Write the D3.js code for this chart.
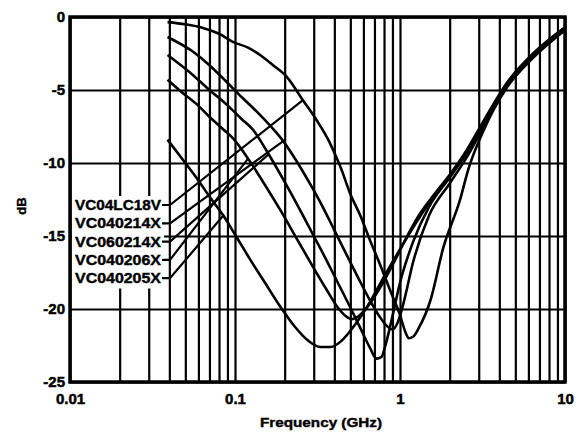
<!DOCTYPE html>
<html>
<head>
<meta charset="utf-8">
<script src="https://cdn.jsdelivr.net/npm/d3@7"></script>
<style>
  html, body { margin: 0; padding: 0; background: #fff; }
  svg { display: block; }
  text { font-family: "Liberation Sans", Arial, sans-serif; font-weight: bold; fill: #000; }
</style>
</head>
<body>
<script>
// ---- data ----
const xTicks = [0.01, 0.1, 1, 10];
const xTickLabels = ["0.01", "0.1", "1", "10"];
const yTicks = [0, -5, -10, -15, -20, -25];
const yTickLabels = ["0", "-5", "-10", "-15", "-20", "-25"];
const seriesNames = ["VC04LC18V", "VC040214X", "VC060214X", "VC040206X", "VC040205X"];

const freqA = [0.039, 0.05, 0.064, 0.08, 0.097, 0.12, 0.142, 0.17, 0.206, 0.258, 0.31, 0.375, 0.44, 0.497, 0.58, 0.658, 0.76, 0.87, 1.0, 1.08, 1.13, 1.2, 1.3, 1.53, 1.83, 2.3, 2.6, 3.2, 4.4, 6.4, 10];
const dbA   = [-0.35, -0.5, -0.75, -1.15, -1.7, -2.1, -2.6, -3.3, -4.1, -5.7, -7.0, -8.6, -10.4, -12.05, -13.7, -15.3, -17.0, -18.7, -20.4, -21.6, -22.0, -21.9, -21.3, -19.4, -15.8, -12.6, -10.4, -7.8, -4.9, -2.8, -0.9];

const freqB = [0.039, 0.056, 0.07, 0.089, 0.11, 0.136, 0.165, 0.196, 0.24, 0.284, 0.34, 0.4, 0.48, 0.56, 0.65, 0.75, 0.84, 0.9, 0.97, 1.05, 1.2, 1.5, 2.0, 2.54, 3.18, 4.45, 6.4, 10];
const dbB   = [-1.37, -2.4, -3.3, -4.45, -5.5, -6.5, -7.5, -8.5, -10.0, -11.4, -13.0, -14.6, -16.4, -17.9, -19.3, -20.5, -21.2, -21.4, -20.9, -19.6, -16.8, -13.6, -11.4, -9.6, -7.6, -4.75, -2.7, -0.8];

const freqC = [0.039, 0.056, 0.07, 0.089, 0.11, 0.128, 0.16, 0.2, 0.25, 0.3, 0.36, 0.42, 0.5, 0.58, 0.66, 0.72, 0.77, 0.82, 0.9, 1.0, 1.2, 1.5, 2.0, 2.54, 3.18, 4.45, 6.4, 10];
const dbC   = [-2.6, -4.0, -5.0, -6.0, -7.0, -7.7, -9.4, -11.3, -13.3, -15.0, -16.7, -18.2, -19.9, -21.4, -22.7, -23.4, -23.3, -22.4, -20.5, -18.2, -15.4, -13.0, -11.0, -9.3, -7.4, -4.6, -2.6, -0.8];

const freqD = [0.039, 0.047, 0.059, 0.071, 0.085, 0.097, 0.12, 0.15, 0.19, 0.24, 0.3, 0.36, 0.42, 0.47, 0.51, 0.56, 0.65, 0.78, 0.9, 1.05, 1.3, 1.6, 2.0, 2.54, 3.18, 4.45, 6.4, 10];
const dbD   = [-4.3, -5.1, -6.0, -6.9, -7.7, -8.3, -9.7, -11.4, -13.3, -15.3, -17.2, -18.7, -19.9, -20.5, -20.7, -20.5, -19.7, -18.3, -17.0, -15.5, -13.6, -12.2, -10.8, -9.1, -7.2, -4.5, -2.5, -0.7];

const freqE = [0.039, 0.05, 0.06, 0.07, 0.085, 0.1, 0.125, 0.15, 0.187, 0.23, 0.28, 0.33, 0.38, 0.44, 0.5, 0.58, 0.66, 0.78, 0.9, 1.05, 1.3, 1.6, 2.0, 2.54, 3.18, 4.45, 6.4, 10];
const dbE   = [-8.4, -10.0, -11.2, -12.3, -13.6, -14.9, -16.7, -18.1, -19.8, -21.2, -22.2, -22.6, -22.6, -22.2, -21.5, -20.5, -19.5, -18.0, -16.8, -15.5, -13.8, -12.3, -10.9, -9.2, -7.3, -4.6, -2.6, -0.7];

// frequency on each curve where the label's leader line meets it
const leaderFreqs = [0.258, 0.196, 0.16, 0.12, 0.085];

// ---- layout ----
const W = 580, H = 432;
const plot = { left: 70, right: 565, top: 17, bottom: 382 };

const svg = d3.select("body").append("svg").attr("width", W).attr("height", H);

const x = d3.scaleLog().domain([0.01, 10]).range([plot.left, plot.right]);
const y = d3.scaleLinear().domain([-25, 0]).range([plot.bottom, plot.top]);

// vertical grid (log decades incl. minor lines)
const gridX = svg.append("g")
  .attr("transform", `translate(0,${plot.bottom})`)
  .call(d3.axisBottom(x).tickValues(x.ticks()).tickSize(-(plot.bottom - plot.top)).tickFormat(""));
gridX.select(".domain").remove();
gridX.selectAll("line").attr("stroke", "#000").attr("stroke-width", 2.2);

// horizontal grid
const gridY = svg.append("g")
  .attr("transform", `translate(${plot.left},0)`)
  .call(d3.axisLeft(y).tickValues(yTicks).tickSize(-(plot.right - plot.left)).tickFormat(""));
gridY.select(".domain").remove();
gridY.selectAll("line").attr("stroke", "#000").attr("stroke-width", 2.2);

// tick labels
const xLab = svg.append("g")
  .attr("transform", `translate(0,${plot.bottom})`)
  .call(d3.axisBottom(x).tickValues(xTicks).tickSize(0).tickPadding(11)
    .tickFormat((d, i) => xTickLabels[i]));
xLab.select(".domain").remove();
xLab.selectAll("text").attr("font-size", 15).attr("font-family", "Liberation Sans, Arial, sans-serif")
  .attr("font-weight", "bold").attr("stroke", "#000").attr("stroke-width", 0.5);

const yLab = svg.append("g")
  .attr("transform", `translate(${plot.left},0)`)
  .call(d3.axisLeft(y).tickValues(yTicks).tickSize(0).tickPadding(5)
    .tickFormat((d, i) => yTickLabels[yTicks.indexOf(d)]));
yLab.select(".domain").remove();
yLab.selectAll("text").attr("font-size", 15).attr("font-family", "Liberation Sans, Arial, sans-serif")
  .attr("font-weight", "bold").attr("stroke", "#000").attr("stroke-width", 0.5);

// plot border
svg.append("rect")
  .attr("x", plot.left).attr("y", plot.top)
  .attr("width", plot.right - plot.left).attr("height", plot.bottom - plot.top)
  .attr("fill", "none").attr("stroke", "#000").attr("stroke-width", 3.5);

// curves
const allFreq = [freqA, freqB, freqC, freqD, freqE];
const allDb = [dbA, dbB, dbC, dbD, dbE];
const line = d3.line().x(d => x(d[0])).y(d => y(d[1])).curve(d3.curveMonotoneX);

allFreq.forEach((fs, k) => {
  const pts = fs.map((f, i) => [f, allDb[k][i]]);
  svg.append("path").attr("d", line(pts))
    .attr("fill", "none").attr("stroke", "#000").attr("stroke-width", 2.6)
    .attr("stroke-linejoin", "round");
});

// label box
const labelTop = 196, labelStep = 18.3;
svg.append("rect")
  .attr("x", plot.left + 2).attr("y", labelTop)
  .attr("width", 92).attr("height", labelStep * 5 + 1)
  .attr("fill", "#fff");

seriesNames.forEach((name, k) => {
  const ly = labelTop + 9 + k * labelStep;
  svg.append("text")
    .attr("x", 75).attr("y", ly).attr("dy", "0.36em")
    .attr("font-size", 14)
    .attr("stroke", "#000").attr("stroke-width", 0.4)
    .attr("textLength", 86).attr("lengthAdjust", "spacingAndGlyphs")
    .text(name);
  const fi = allFreq[k].indexOf(leaderFreqs[k]);
  const tx = x(leaderFreqs[k]), ty = y(allDb[k][fi]);
  svg.append("path")
    .attr("d", `M${162},${ly}L${170},${ly}L${tx},${ty}`)
    .attr("fill", "none").attr("stroke", "#000").attr("stroke-width", 2.2);
});

// axis titles
svg.append("text")
  .attr("transform", `translate(26,206) rotate(-90)`)
  .attr("text-anchor", "middle")
  .attr("font-size", 13)
  .attr("stroke", "#000").attr("stroke-width", 0.4)
  .text("dB");

svg.append("text")
  .attr("x", 321).attr("y", 427)
  .attr("text-anchor", "middle")
  .attr("font-size", 13)
  .attr("stroke", "#000").attr("stroke-width", 0.4)
  .attr("textLength", 122).attr("lengthAdjust", "spacingAndGlyphs")
  .text("Frequency (GHz)");
</script>
</body>
</html>
